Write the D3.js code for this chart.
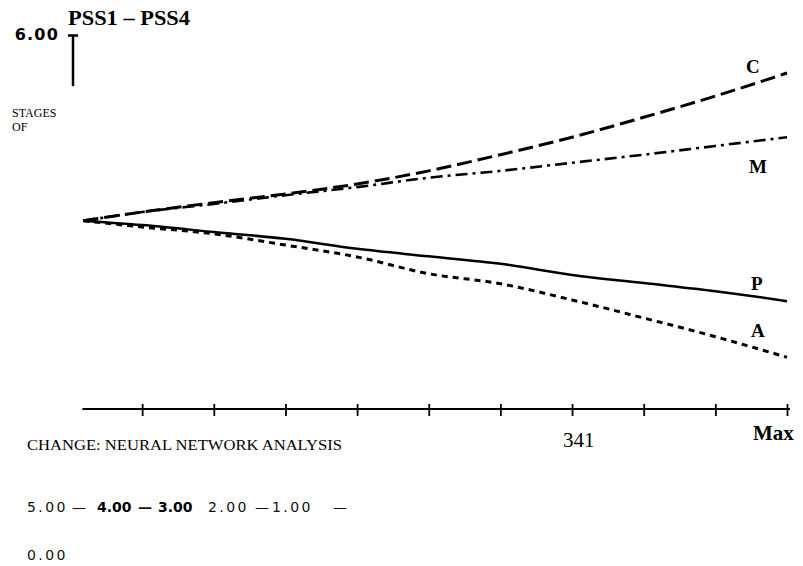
<!DOCTYPE html>
<html><head><meta charset="utf-8">
<script src="https://cdn.jsdelivr.net/npm/d3@7"></script>
<style>body{margin:0;background:#fff}svg{display:block}</style>
</head><body><svg id="c" width="803" height="566"></svg>
<script>
// ---- data ----
const xValues = [0.18, 1, 2, 3, 4, 5, 6, 7, 8, 9, 10];
const seriesC = [3.02, 3.16, 3.31, 3.45, 3.61, 3.82, 4.08, 4.36, 4.68, 5.02, 5.39];
const seriesM = [3.02, 3.16, 3.29, 3.43, 3.56, 3.71, 3.82, 3.95, 4.08, 4.22, 4.36];
const seriesP = [3.02, 2.95, 2.84, 2.73, 2.57, 2.45, 2.33, 2.15, 2.02, 1.89, 1.73];
const seriesA = [3.02, 2.92, 2.81, 2.63, 2.44, 2.17, 2.01, 1.75, 1.46, 1.16, 0.83];
const seriesNames = ["C", "M", "P", "A"];
const xTicks = [1, 2, 3, 4, 5, 6, 7, 8, 9, 10];
const yTopTick = [6];
const yTickLabels = ["6.00", "5.00", "4.00", "3.00", "2.00", "1.00", "0.00"];
const title = "PSS1 – PSS4";
const yLabel = ["STAGES", "OF"];
const xLabel = "CHANGE: NEURAL NETWORK ANALYSIS";
const pageNo = "341";
const xMaxLabel = "Max";

const svg = d3.select("#c");
const x = d3.scaleLinear().domain([0, 10]).range([70.5, 787]);
const y = d3.scaleLinear().domain([0, 6]).range([409, 35]);

// x axis
const xg = svg.append("g").attr("transform", `translate(0,${y(0)})`)
  .call(d3.axisBottom(x).tickValues(xTicks).tickSize(7).tickFormat(""));
xg.select(".domain").remove();
xg.selectAll(".tick line").attr("y1", -5).attr("y2", 7).attr("stroke", "#000").attr("stroke-width", 1.8);
xg.append("line").attr("x1", x(xValues[0]) - 1).attr("x2", x(10) + 3)
  .attr("y1", 0).attr("y2", 0).attr("stroke", "#000").attr("stroke-width", 2);

// y axis (top tick only)
const yg = svg.append("g").attr("transform", `translate(73,0)`)
  .call(d3.axisLeft(y).tickValues(yTopTick).tickSize(5).tickFormat(() => yTickLabels[0]));
yg.select(".domain").remove();
yg.selectAll(".tick line").attr("x1", -5).attr("x2", 5).attr("stroke", "#000").attr("stroke-width", 2.5);
yg.selectAll(".tick text").attr("x", -14).attr("dy", "0.25em")
  .style("font-family", "DejaVu Sans").style("font-weight", "bold").style("font-size", "16px")
  .style("letter-spacing", "1.2px").attr("fill", "#000");
yg.append("line").attr("x1", 0).attr("x2", 0).attr("y1", y(6)).attr("y2", y(5.18))
  .attr("stroke", "#000").attr("stroke-width", 2.5);

// lines
const styles = {
  C: {dash: "15,6", w: 3},
  M: {dash: "12,5,3,5", w: 2.6},
  P: {dash: null, w: 2.5},
  A: {dash: "6,5", w: 3}
};
const all = {C: seriesC, M: seriesM, P: seriesP, A: seriesA};
const line = d3.line().x((d, i) => x(xValues[i])).y(d => y(d)).curve(d3.curveMonotoneX);
seriesNames.forEach(n => {
  const p = svg.append("path").datum(all[n]).attr("d", line).attr("fill", "none")
    .attr("stroke", "#000").attr("stroke-width", styles[n].w).attr("stroke-linecap", "butt");
  if (styles[n].dash) p.attr("stroke-dasharray", styles[n].dash);
});

const serif = "Liberation Serif";
// series labels
const lab = [["C", 746, 73], ["M", 749, 173], ["P", 751, 290], ["A", 751, 337]];
lab.forEach(([t, lx, ly]) => svg.append("text").attr("x", lx).attr("y", ly).text(t)
  .style("font-family", serif).style("font-weight", "bold").style("font-size", "19px"));

// title
svg.append("text").attr("x", 68).attr("y", 25).text(title)
  .style("font-family", serif).style("font-weight", "bold").style("font-size", "22px")
  .attr("textLength", 122).attr("lengthAdjust", "spacingAndGlyphs");
// y label
yLabel.forEach((t, i) => svg.append("text").attr("x", 12).attr("y", 117 + i * 14).text(t)
  .style("font-family", serif).style("font-size", "12px"));
// x label
svg.append("text").attr("x", 27).attr("y", 450).text(xLabel)
  .style("font-family", serif).style("font-size", "14.5px")
  .attr("textLength", 315).attr("lengthAdjust", "spacingAndGlyphs");
svg.append("text").attr("x", 563).attr("y", 447).text(pageNo)
  .style("font-family", serif).style("font-size", "21px");
svg.append("text").attr("x", 753).attr("y", 440).text(xMaxLabel)
  .style("font-family", serif).style("font-weight", "bold").style("font-size", "21px");

// dislocated tick labels
const pieces = [
  [yTickLabels[1], 27, false], ["—", 72, false], [yTickLabels[2], 97, true], ["—", 138, true],
  [yTickLabels[3], 158, true], [yTickLabels[4], 208, false], ["—", 255, false],
  [yTickLabels[5], 272, false], ["—", 333, false]
];
pieces.forEach(([t, px, b]) => {
  const el = svg.append("text").attr("x", px).attr("y", 512).text(t).attr("fill", "#111");
  if (t === "—") el.style("font-family", "DejaVu Sans").style("font-size", "14px").style("font-weight", b ? "bold" : "normal");
  else if (b) el.style("font-family", "DejaVu Sans").style("font-weight", "bold").style("font-size", "14px").attr("fill", "#000");
  else el.style("font-family", "DejaVu Sans").style("font-size", "14px").style("letter-spacing", "2.4px");
});
svg.append("text").attr("x", 27).attr("y", 560).text(yTickLabels[6]).attr("fill", "#111")
  .style("font-family", "DejaVu Sans").style("font-size", "14px").style("letter-spacing", "2.4px");
</script></body></html>
